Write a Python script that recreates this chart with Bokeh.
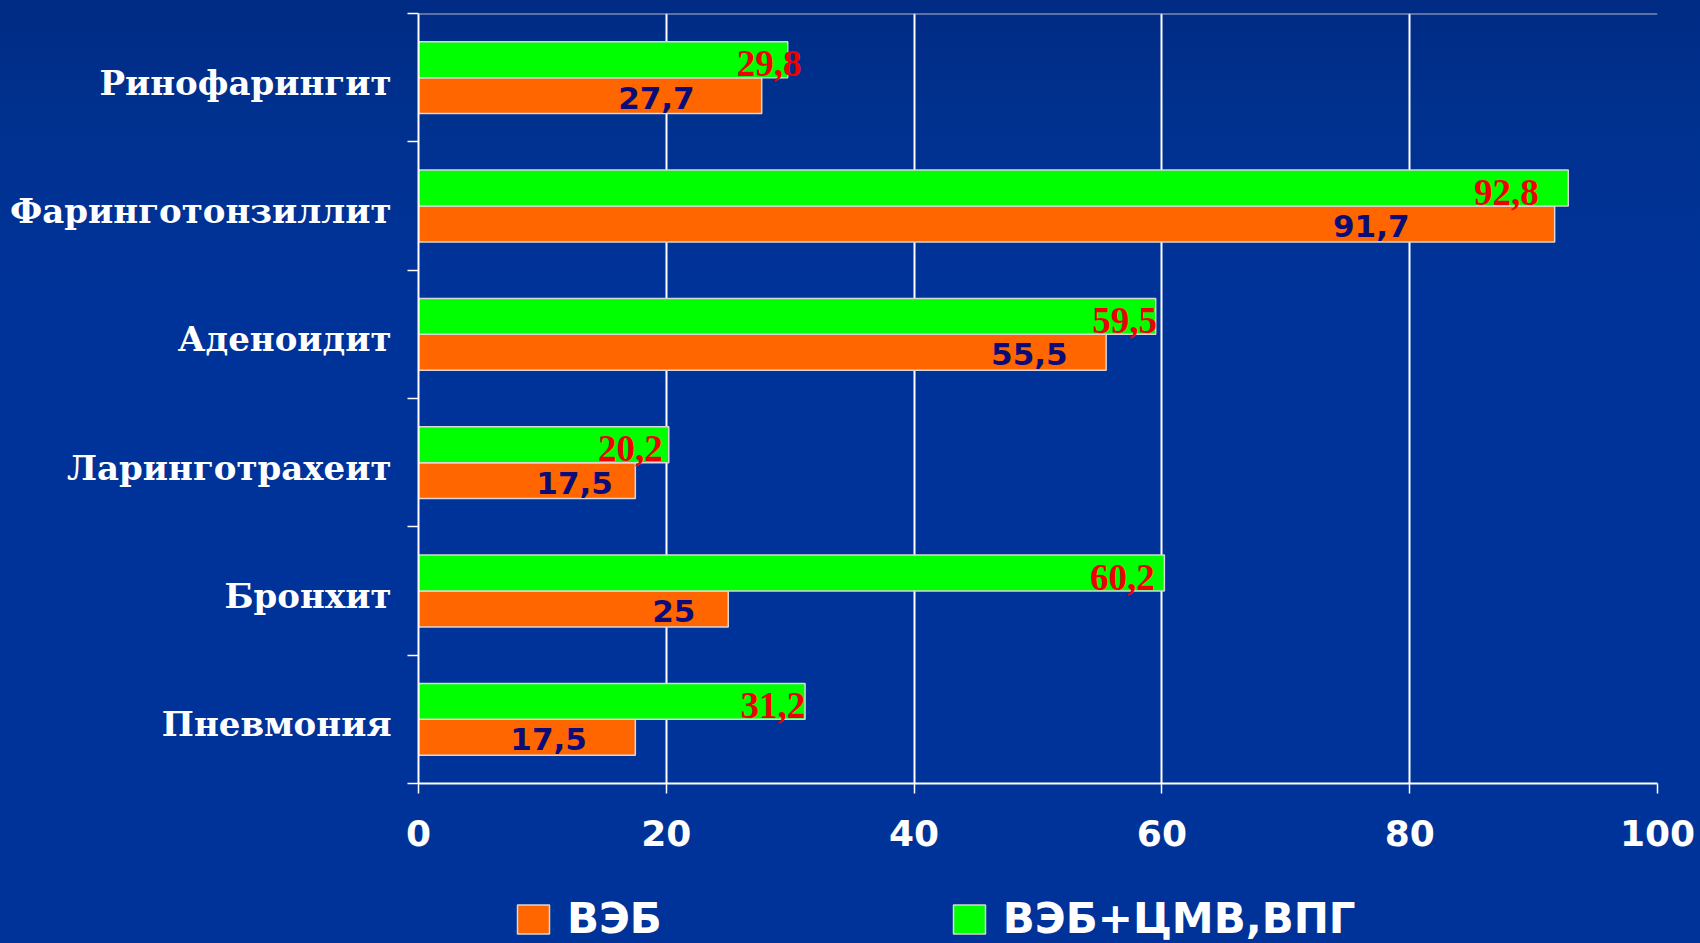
from bokeh.plotting import figure
from bokeh.layouts import column
from bokeh.models import ColumnDataSource, FixedTicker, Legend, LegendItem, Range1d, Span
from bokeh.embed import file_html
from bokeh.resources import INLINE
from bokeh.core.properties import value

# Data
categories = ["Ринофарингит", "Фаринготонзиллит", "Аденоидит",
              "Ларинготрахеит", "Бронхит", "Пневмония"]
veb = [27.7, 91.7, 55.5, 17.5, 25, 17.5]
veb_mixed = [29.8, 92.8, 59.5, 20.2, 60.2, 31.2]
series_names = ["ВЭБ", "ВЭБ+ЦМВ,ВПГ"]
x_ticks = [0, 20, 40, 60, 80, 100]

# hand-placed label shifts along the value axis
veb_label_shift = [-8.5, -14.8, -6.2, -4.9, -4.4, -7.0]
mixed_label_shift = [-1.5, -5.0, -2.5, -3.1, -3.4, -2.6]

ORANGE = "#ff6600"
GREEN = "#00ff00"
EDGE = "#d8d8d8"
BAR_H = 0.28

n = len(categories)
centers = [n - i - 0.5 for i in range(n)]
label_pos = [c - 0.04 for c in centers]   # category names sit a little low
bounds = list(range(n + 1))


def fmt(v):
    return f"{v:g}".replace(".", ",")


src_veb = ColumnDataSource(dict(
    y=[c - BAR_H / 2 for c in centers],
    v=veb,
    lx=[v + s for v, s in zip(veb, veb_label_shift)],
    txt=[fmt(v) for v in veb],
))
src_mix = ColumnDataSource(dict(
    y=[c + BAR_H / 2 for c in centers],
    v=veb_mixed,
    lx=[v + s for v, s in zip(veb_mixed, mixed_label_shift)],
    txt=[fmt(v) for v in veb_mixed],
))

p = figure(width=1700, height=873, output_backend="svg", toolbar_location=None,
           x_range=Range1d(0, 100), y_range=Range1d(0, n),
           min_border_left=418, min_border_right=43,
           min_border_top=13, min_border_bottom=90)
p.background_fill_alpha = 0
p.border_fill_alpha = 0
p.outline_line_color = None

bar_style = dict(y="y", left=0, right="v", height=BAR_H, line_color=EDGE, line_width=1.5)
p.hbar(source=src_veb, fill_color=ORANGE, **bar_style)
p.hbar(source=src_mix, fill_color=GREEN, **bar_style)

p.text(x="lx", y="y", text="txt", source=src_mix,
       text_font=value("Liberation Serif"), text_font_style="bold",
       text_font_size="37px", text_color="#f00000",
       text_align="center", text_baseline="middle", y_offset=4)
p.text(x="lx", y="y", text="txt", source=src_veb,
       text_font=value("DejaVu Sans"), text_font_style="bold",
       text_font_size="31px", text_color="#0c0c78",
       text_align="center", text_baseline="middle", y_offset=2)

# grid and top edge
p.ygrid.visible = False
p.xgrid.ticker = FixedTicker(ticks=x_ticks)
p.xgrid.grid_line_color = "white"
p.xgrid.grid_line_width = 2
p.add_layout(Span(location=n, dimension="width", line_color="#b4b9c8", line_width=2))

# value axis
xa = p.xaxis[0]
xa.ticker = FixedTicker(ticks=x_ticks)
xa.axis_line_color = "white"
xa.axis_line_width = 2
xa.major_tick_line_color = "white"
xa.major_tick_line_width = 1.5
xa.major_tick_in = 0
xa.major_tick_out = 10
xa.minor_tick_line_color = None
xa.major_label_text_font = "DejaVu Sans"
xa.major_label_text_font_style = "bold"
xa.major_label_text_font_size = "36px"
xa.major_label_text_color = "white"
xa.major_label_standoff = 26

# category axis
ya = p.yaxis[0]
ya.ticker = FixedTicker(ticks=label_pos, minor_ticks=bounds)
ya.major_label_overrides = {t: name for t, name in zip(label_pos, categories)}
ya.axis_line_color = "white"
ya.axis_line_width = 2
ya.major_tick_line_color = None
ya.major_tick_in = 0
ya.major_tick_out = 0
ya.minor_tick_line_color = "white"
ya.minor_tick_line_width = 1.5
ya.minor_tick_in = 0
ya.minor_tick_out = 11
ya.major_label_text_font = "DejaVu Serif"
ya.major_label_text_font_style = "bold"
ya.major_label_text_font_size = "34px"
ya.major_label_text_color = "white"
ya.major_label_standoff = 16

# legend strip under the chart; its swatch renderers stay hidden
leg = figure(width=1700, height=70, output_backend="svg", toolbar_location=None,
             x_range=Range1d(0, 100), y_range=Range1d(0, n),
             x_axis_location=None, y_axis_location=None, min_border=0)
leg.background_fill_alpha = 0
leg.border_fill_alpha = 0
leg.outline_line_color = None
leg.grid.visible = False
key_veb = leg.hbar(source=src_veb, fill_color=ORANGE, visible=False, **bar_style)
key_mix = leg.hbar(source=src_mix, fill_color=GREEN, visible=False, **bar_style)

legend = Legend(items=[LegendItem(label=series_names[0], renderers=[key_veb]),
                       LegendItem(label=series_names[1], renderers=[key_mix])],
                orientation="horizontal", location=(95, 0),
                padding=0, margin=0, spacing=287,
                glyph_width=40, glyph_height=36, label_standoff=14,
                label_text_font="DejaVu Sans", label_text_font_style="bold",
                label_text_font_size="42px", label_text_color="white",
                inactive_fill_alpha=0,
                background_fill_alpha=0, border_line_color=None)
leg.add_layout(legend, "center")

page = column(p, leg, spacing=0)
page.styles = {"background": "linear-gradient(to bottom, #002b84 0%, #00318f 12%, #003399 30%, #003399 100%)"}
open("out.html", "w").write(file_html(page, INLINE))
